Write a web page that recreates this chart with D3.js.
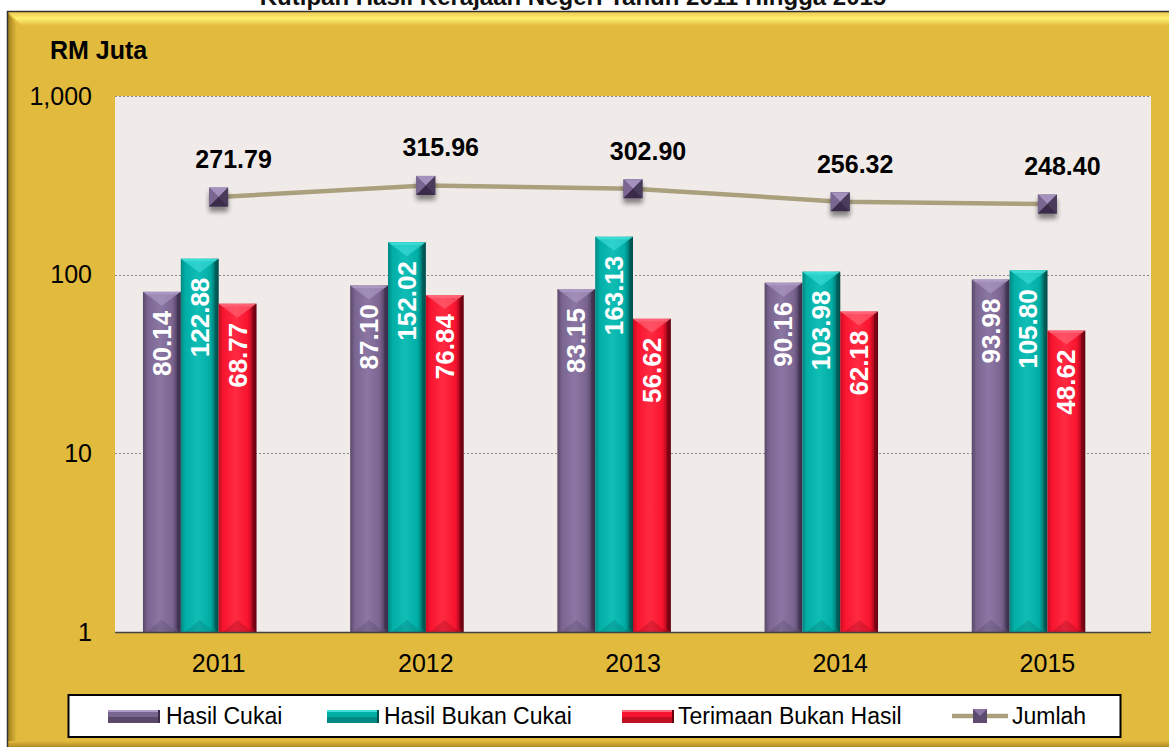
<!DOCTYPE html>
<html><head><meta charset="utf-8">
<script src="https://cdn.jsdelivr.net/npm/d3@7"></script>
<style>html,body{margin:0;padding:0;background:#fff;}svg{display:block;font-family:Arial,"Liberation Sans",sans-serif;}</style>
</head><body><svg id="c" width="1169" height="747"></svg>
<script>
const years = ["2011","2012","2013","2014","2015"];
const seriesNames = ["Hasil Cukai","Hasil Bukan Cukai","Terimaan Bukan Hasil"];
const hasilCukai = [80.14, 87.10, 83.15, 90.16, 93.98];
const hasilBukanCukai = [122.88, 152.02, 163.13, 103.98, 105.80];
const terimaanBukanHasil = [68.77, 76.84, 56.62, 62.18, 48.62];
const jumlah = [271.79, 315.96, 302.90, 256.32, 248.40];
const yTicks = [1, 10, 100, 1000];
const titleText = "Kutipan Hasil Kerajaan Negeri Tahun 2011 Hingga 2015";

const colors = {
  "Hasil Cukai": {base:"#7a6490", light:"#8c77a4", dark:"#3a2c48", mid:"#5a4868", bev:"#b09cc8"},
  "Hasil Bukan Cukai": {base:"#00aea6", light:"#10beb6", dark:"#004e4a", mid:"#008882", bev:"#40e0d8"},
  "Terimaan Bukan Hasil": {base:"#f8142e", light:"#ff2a42", dark:"#660010", mid:"#c00e22", bev:"#ff6a7c"}
};
const seriesData = [hasilCukai, hasilBukanCukai, terimaanBukanHasil];

const svg = d3.select("#c");
const defs = svg.append("defs");

const fg = defs.append("linearGradient").attr("id","topBevel").attr("x1",0).attr("y1",0).attr("x2",0).attr("y2",1);
fg.append("stop").attr("offset","0%").attr("stop-color","#e9c548");
fg.append("stop").attr("offset","50%").attr("stop-color","#fff070");
fg.append("stop").attr("offset","100%").attr("stop-color","#e2ba3e");
const lg = defs.append("linearGradient").attr("id","leftBevel").attr("x1",0).attr("y1",0).attr("x2",1).attr("y2",0);
lg.append("stop").attr("offset","0%").attr("stop-color","#9a7a1a");
lg.append("stop").attr("offset","100%").attr("stop-color","#e2ba3e");
const bg = defs.append("linearGradient").attr("id","botBevel").attr("x1",0).attr("y1",0).attr("x2",0).attr("y2",1);
bg.append("stop").attr("offset","0%").attr("stop-color","#e2ba3e");
bg.append("stop").attr("offset","100%").attr("stop-color","#b08a20");

Object.entries(colors).forEach(([k,c],i)=>{
  const g = defs.append("linearGradient").attr("id","bar"+i).attr("x1",0).attr("y1",0).attr("x2",1).attr("y2",0);
  g.append("stop").attr("offset","0%").attr("stop-color",c.mid);
  g.append("stop").attr("offset","12%").attr("stop-color",c.base);
  g.append("stop").attr("offset","45%").attr("stop-color",c.light);
  g.append("stop").attr("offset","78%").attr("stop-color",c.base);
  g.append("stop").attr("offset","100%").attr("stop-color",c.dark);
});
const sh = defs.append("filter").attr("id","shadow").attr("x","-50%").attr("y","-50%").attr("width","200%").attr("height","220%");
sh.append("feGaussianBlur").attr("in","SourceAlpha").attr("stdDeviation",2.5);
sh.append("feOffset").attr("dx",0).attr("dy",5).attr("result","ob");
sh.append("feComponentTransfer").append("feFuncA").attr("type","linear").attr("slope",0.45);
const mg = sh.append("feMerge"); mg.append("feMergeNode"); mg.append("feMergeNode").attr("in","SourceGraphic");

// Title (partially cut off at top, as in the reference)
svg.append("text").attr("x",573).attr("y",5).attr("text-anchor","middle")
  .attr("font-size",24).attr("font-weight","bold").attr("fill","#111").text(titleText);

// Frame
const FX=7, FY=11, FW=1169-7, FH=747-11;
svg.append("rect").attr("x",FX).attr("y",FY).attr("width",FW).attr("height",FH).attr("fill","#e2ba3e");
svg.append("polygon").attr("points",`${FX},${FY} ${FX+FW},${FY} ${FX+FW},${FY+15} ${FX+15},${FY+15}`).attr("fill","url(#topBevel)");
svg.append("polygon").attr("points",`${FX},${FY} ${FX+10},${FY+15} ${FX+10},${FY+FH-8} ${FX},${FY+FH}`).attr("fill","url(#leftBevel)");
svg.append("rect").attr("x",FX).attr("y",741).attr("width",FW).attr("height",6).attr("fill","url(#botBevel)");
svg.append("line").attr("x1",FX).attr("x2",1169).attr("y1",FY+0.5).attr("y2",FY+0.5).attr("stroke","#333").attr("stroke-width",1.5);
svg.append("line").attr("x1",FX+0.5).attr("x2",FX+0.5).attr("y1",FY).attr("y2",747).attr("stroke","#333").attr("stroke-width",1.5);

// Plot
const PL=115, PR=1151, PT=96, PB=632;
svg.append("rect").attr("x",PL).attr("y",PT).attr("width",PR-PL).attr("height",PB-PT).attr("fill","#f0ebe8");

const y = d3.scaleLog().domain([1,1000]).range([PB,PT]);
const x0 = d3.scaleBand().domain(years).range([PL,PR]).paddingInner(0.27).paddingOuter(0.135);
const x1 = d3.scaleBand().domain([...seriesNames,"Jumlah"]).range([0,x0.bandwidth()]);

svg.append("g").selectAll("line").data(yTicks.filter(t=>t>1)).join("line")
  .attr("x1",PL).attr("x2",PR).attr("y1",d=>Math.round(y(d))+0.5).attr("y2",d=>Math.round(y(d))+0.5)
  .attr("stroke","#8a8a8a").attr("stroke-width",1).attr("stroke-dasharray","2,2");

const yAxis = d3.axisLeft(y).tickValues(yTicks).tickFormat(d3.format(",")).tickSize(0).tickPadding(0);
const ya = svg.append("g").attr("transform",`translate(92,0)`).call(yAxis);
ya.select(".domain").remove();
ya.selectAll("text").attr("font-size",25).attr("fill","#000").attr("font-family","Arial,'Liberation Sans',sans-serif");

const xAxis = d3.axisBottom(x0).tickSize(0).tickPadding(0);
const xa = svg.append("g").attr("transform",`translate(0,${PB})`).call(xAxis);
xa.select(".domain").remove();
xa.selectAll("text").attr("font-size",25).attr("fill","#000").attr("dy",0).attr("y",40).attr("font-family","Arial,'Liberation Sans',sans-serif");

seriesNames.forEach((s,si)=>{
  const vals = seriesData[si];
  const c = colors[s];
  const g = svg.append("g");
  years.forEach((yr,i)=>{
    const bx = x0(yr)+x1(s), bw = x1.bandwidth(), top = y(vals[i]);
    g.append("rect").attr("x",bx).attr("y",top).attr("width",bw).attr("height",PB-top).attr("fill",`url(#bar${si})`);
    g.append("polygon").attr("points",`${bx},${top} ${bx+bw},${top} ${bx+bw-4},${top+3} ${bx+4},${top+3}`).attr("fill",c.bev).attr("opacity",0.9);
    g.append("polygon").attr("points",`${bx+4},${top+3} ${bx+bw-4},${top+3} ${bx+bw/2},${top+14}`).attr("fill",c.bev).attr("opacity",0.6);
    g.append("polygon").attr("points",`${bx+bw},${top} ${bx+bw},${PB} ${bx+bw-4},${PB-4} ${bx+bw-4},${top+3}`).attr("fill",c.dark).attr("opacity",0.5);
    g.append("polygon").attr("points",`${bx+4},${PB} ${bx+bw-4},${PB} ${bx+bw/2},${PB-12}`).attr("fill",c.dark).attr("opacity",0.2);
    const lx = bx+bw/2+9, ly = top+19;
    g.append("text").attr("transform",`translate(${lx},${ly}) rotate(-90)`).attr("text-anchor","end")
      .attr("font-size",26).attr("font-weight","bold").attr("fill","#fff").text(vals[i].toFixed(2));
  });
});

svg.append("line").attr("x1",PL).attr("x2",PR).attr("y1",PB+0.5).attr("y2",PB+0.5).attr("stroke","#444").attr("stroke-width",1.5);

const cx = d => x0(d)+x0.bandwidth()/2;
const line = d3.line().x((d,i)=>cx(years[i])).y(d=>y(d));
svg.append("path").datum(jumlah).attr("d",line).attr("fill","none").attr("stroke","#aaa07e").attr("stroke-width",4.5);

function marker(g, mx, my, s){
  const h=s/2;
  const mg = g.append("g").attr("filter","url(#shadow)");
  mg.append("rect").attr("x",mx-h).attr("y",my-h).attr("width",s).attr("height",s).attr("fill","#5d4b70");
  mg.append("polygon").attr("points",`${mx-h},${my-h} ${mx+h},${my-h} ${mx},${my}`).attr("fill","#a591bd");
  mg.append("polygon").attr("points",`${mx-h},${my-h} ${mx-h},${my+h} ${mx},${my}`).attr("fill","#7a6690");
  mg.append("polygon").attr("points",`${mx+h},${my-h} ${mx+h},${my+h} ${mx},${my}`).attr("fill","#4a3a5a");
  mg.append("polygon").attr("points",`${mx-h},${my+h} ${mx+h},${my+h} ${mx},${my}`).attr("fill","#3a2c48");
}
const mgp = svg.append("g");
jumlah.forEach((v,i)=>{
  marker(mgp, cx(years[i]), y(v), 19);
  svg.append("text").attr("x",cx(years[i])+15).attr("y",y(v)-29).attr("text-anchor","middle")
    .attr("font-size",25).attr("font-weight","bold").attr("fill","#000").text(v.toFixed(2));
});

svg.append("text").attr("x",50).attr("y",59).attr("font-size",25).attr("font-weight","bold").attr("fill","#000").text("RM Juta");

svg.append("rect").attr("x",68.5).attr("y",695).attr("width",1052).attr("height",42).attr("fill","#fff").attr("stroke","#000").attr("stroke-width",2);
const legendItems = [
  {name:"Hasil Cukai", sx:108, tx:166, idx:0},
  {name:"Hasil Bukan Cukai", sx:327, tx:384, idx:1},
  {name:"Terimaan Bukan Hasil", sx:622, tx:678, idx:2},
  {name:"Jumlah", sx:952, tx:1012, idx:3}
];
const lgG = svg.append("g");
legendItems.forEach(it=>{
  if(it.idx<3){
    const c = colors[seriesNames[it.idx]];
    lgG.append("rect").attr("x",it.sx).attr("y",710).attr("width",52).attr("height",13).attr("fill",c.base);
    lgG.append("rect").attr("x",it.sx).attr("y",717).attr("width",52).attr("height",6).attr("fill",c.mid);
    lgG.append("rect").attr("x",it.sx).attr("y",710).attr("width",52).attr("height",2).attr("fill",c.bev);
    lgG.append("rect").attr("x",it.sx+50).attr("y",710).attr("width",2).attr("height",13).attr("fill",c.dark);
  } else {
    lgG.append("line").attr("x1",it.sx).attr("x2",it.sx+56).attr("y1",716).attr("y2",716).attr("stroke","#aaa07e").attr("stroke-width",4.5);
    const mx = it.sx+28, h=7;
    lgG.append("rect").attr("x",mx-h).attr("y",716-h).attr("width",2*h).attr("height",2*h).attr("fill","#5d4b70");
    lgG.append("polygon").attr("points",`${mx-h},${716-h} ${mx+h},${716-h} ${mx},716`).attr("fill","#8a76a2");
  }
  lgG.append("text").attr("x",it.tx).attr("y",724).attr("font-size",23).attr("fill","#000").text(it.name);
});
</script>
</body></html>
